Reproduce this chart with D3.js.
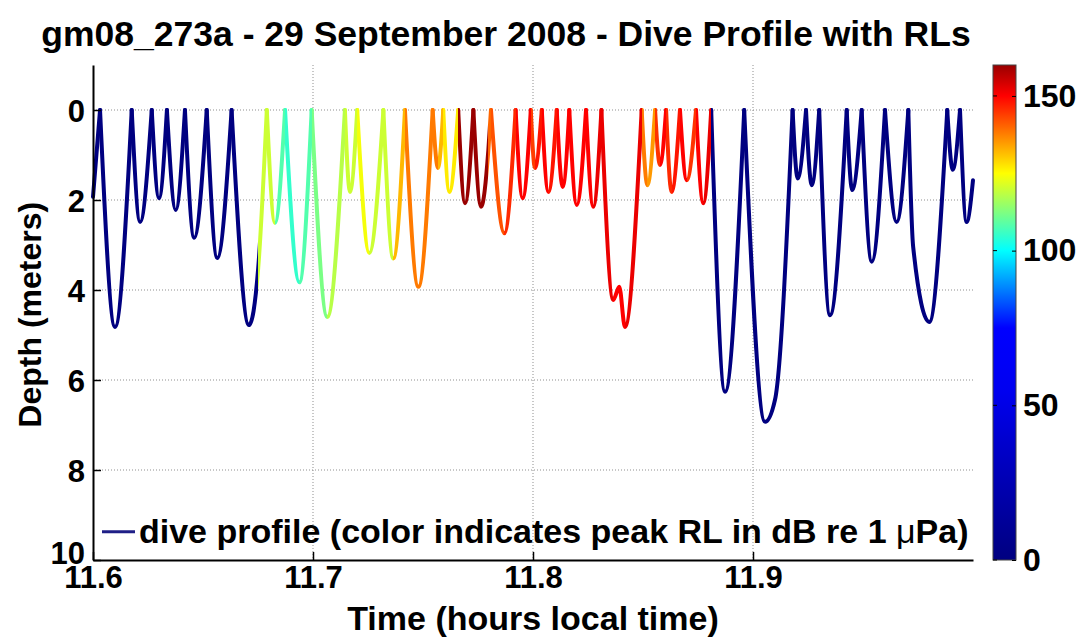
<!DOCTYPE html>
<html>
<head>
<meta charset="utf-8">
<script src="https://cdn.jsdelivr.net/npm/d3@7"></script>
<style>
  body { margin: 0; background: #fff; }
  text { font-family: "Liberation Sans", Arial, Helvetica, sans-serif; font-weight: bold; fill: #000; }
</style>
</head>
<body>
<div id="graphic"></div>
<script>
// dive profile vertices (time in hours, depth in m)
const timeHours = [
  11.6000, 11.6032, 11.6100, 11.6176, 11.6214, 11.6267, 11.6300, 11.6336, 11.6376, 11.6418,
  11.6460, 11.6517, 11.6565, 11.6630, 11.6709, 11.6751, 11.6790, 11.6827, 11.6873, 11.6938,
  11.6994, 11.7065, 11.7145, 11.7168, 11.7201, 11.7256, 11.7320, 11.7365, 11.7418, 11.7479,
  11.7544, 11.7568, 11.7592, 11.7620, 11.7660, 11.7691, 11.7729, 11.7764, 11.7797, 11.7809,
  11.7870, 11.7921, 11.7953, 11.7990, 11.8009, 11.8040, 11.8070, 11.8108, 11.8135, 11.8165,
  11.8199, 11.8241, 11.8274, 11.8311, 11.8365, 11.8392, 11.8418, 11.8494, 11.8520, 11.8555,
  11.8577, 11.8605, 11.8630, 11.8668, 11.8699, 11.8741, 11.8774, 11.8810, 11.8873, 11.8960,
  11.9055, 11.9100, 11.9180, 11.9203, 11.9241, 11.9267, 11.9301, 11.9350, 11.9426, 11.9451,
  11.9494, 11.9540, 11.9600, 11.9653, 11.9706, 11.9728, 11.9801, 11.9883, 11.9908, 11.9941,
  11.9971, 12.0000
];
const depthMeters = [
  1.93, 0, 4.82, 0, 2.49, 0, 1.96, 0, 2.22, 0,
  2.84, 0, 3.29, 0, 4.78, 3.51, 0, 2.51, 0, 3.83,
  0, 4.60, 0, 1.82, 0, 3.18, 0, 3.30, 0, 3.93,
  0, 1.29, 0, 1.82, 0, 2.07, 0, 2.15, 0.89, 0,
  2.74, 0, 1.96, 0, 1.29, 0, 1.82, 0, 1.71, 0,
  2.11, 0, 2.15, 0, 4.22, 3.93, 4.82, 0, 1.67, 0,
  1.22, 0, 1.82, 0, 1.56, 0, 2.07, 0, 6.26, 0,
  6.93, 6.44, 0, 1.52, 0, 1.67, 0, 4.56, 0, 1.78,
  0, 3.37, 0, 2.49, 0, 3.04, 4.71, 0, 1.33, 0,
  2.49, 1.56
];
// peak received level (dB re 1 uPa) for the stretch starting at each vertex, 0 = none
const peakRL = [
  0, 0, 0, 0, 0, 0, 0, 0, 0, 0,
  0, 0, 0, 0, 0, 120, 120, 108, 105, 108,
  112, 118, 120, 120, 124, 120, 120, 132, 138, 138,
  138, 132, 127, 127, 160, 160, 160, 160, 140, 142,
  146, 150, 150, 144, 148, 150, 148, 150, 150, 150,
  150, 150, 152, 152, 150, 150, 152, 138, 135, 145,
  150, 146, 148, 150, 145, 150, 152, 0, 0, 0,
  0, 0, 0, 0, 0, 0, 0, 0, 0, 0,
  0, 0, 0, 0, 0, 0, 0, 0, 0, 0,
  0, 0
];

const xTicks = [11.6, 11.7, 11.8, 11.9];
const yTicks = [0, 2, 4, 6, 8, 10];
const rlTicks = [0, 50, 100, 150];

const Chart = {
  el: "#graphic",
  outerWidth: 1085,
  outerHeight: 639,
  margin: { left: 93, right: 112, top: 65, bottom: 79 },
  lineColor: "#1f1f87",
  // jet-like colormap of the colorbar
  jetDomain: [0, 55, 75, 100, 125, 150, 162.5],
  jetRange: ["#000080", "#0000f0", "#0000ff", "#00ffff", "#ffff00", "#ff0000", "#800000"],
  parameters(){
    this.width = this.outerWidth - this.margin.left - this.margin.right;
    this.height = this.outerHeight - this.margin.top - this.margin.bottom;
    this.points = timeHours.map((t, i) => ({ t: t, depth: depthMeters[i], rl: peakRL[i] }));
  },
  createScales(){
    this.xScale = d3.scaleLinear().domain([11.6, 12.0]).range([0, this.width]);
    this.yScale = d3.scaleLinear().domain([-1, 10]).range([0, this.height]);
    this.color = d3.scaleLinear().domain(this.jetDomain).range(this.jetRange).clamp(true);
    this.rlScale = d3.scaleLinear().domain([0, 160]).range([this.height, 0]);
  },
  drawPlot(){
    this.svg = d3.select(this.el).append("svg")
      .attr("width", this.outerWidth)
      .attr("height", this.outerHeight)
      .style("background", "#fff");
    this.defs = this.svg.append("defs");
    this.plot = this.svg.append("g")
      .attr("transform", `translate(${this.margin.left}, ${this.margin.top})`);
  },
  drawGrid(){
    const grid = this.plot.append("g").attr("class", "grid");
    grid.selectAll(".hgrid")
        .data(yTicks.filter(d => d < 10))
      .enter().append("line")
        .attr("x1", 0).attr("x2", this.width)
        .attr("y1", d => this.yScale(d)).attr("y2", d => this.yScale(d));
    grid.selectAll(".vgrid")
        .data(xTicks.filter(d => d > 11.6))
      .enter().append("line")
        .attr("y1", 0).attr("y2", this.height)
        .attr("x1", d => this.xScale(d)).attr("x2", d => this.xScale(d));
    grid.selectAll("line")
      .attr("stroke", "#8f8f8f")
      .attr("stroke-width", 1)
      .attr("stroke-dasharray", "1,2");
  },
  drawAxes(){
    const yAxis = d3.axisLeft(this.yScale)
      .tickValues(yTicks).tickSizeInner(-8).tickSizeOuter(0).tickPadding(8);
    const xAxis = d3.axisBottom(this.xScale)
      .tickValues(xTicks).tickFormat(d3.format(".1f"))
      .tickSizeInner(-8).tickSizeOuter(0).tickPadding(6);

    const gy = this.plot.append("g").attr("class", "axis yaxis").call(yAxis);
    const gx = this.plot.append("g").attr("class", "axis xaxis")
      .attr("transform", `translate(0, ${this.height})`).call(xAxis);

    [gx, gy].forEach(g => {
      g.select(".domain").attr("stroke", "#000").attr("stroke-width", 2);
      g.selectAll(".tick line").attr("stroke", "#000").attr("stroke-width", 1.5);
      g.selectAll(".tick text")
        .attr("font-family", "Liberation Sans, Arial, sans-serif")
        .attr("font-weight", "bold")
        .attr("font-size", 31)
        .attr("fill", "#000");
    });
    // MATLAB squeezes the bottom "10" up against the x labels
    gy.selectAll(".tick text").attr("dy", d => d === 10 ? "0.1em" : "0.36em");
  },
  drawGradient(){
    const frac = d3.scaleLinear().domain(this.xScale.domain()).range([0, 100]);
    const grad = this.defs.append("linearGradient")
      .attr("id", "rlGrad")
      .attr("gradientUnits", "userSpaceOnUse")
      .attr("x1", this.xScale.range()[0]).attr("x2", this.xScale.range()[1])
      .attr("y1", 0).attr("y2", 0);
    const stops = [];
    this.points.slice(0, -1).forEach((p, i) => {
      const next = this.points[i + 1];
      stops.push({ o: frac(p.t), c: this.color(p.rl) });
      stops.push({ o: frac(next.t), c: this.color(p.rl) });
    });
    grad.selectAll("stop")
        .data(stops)
      .enter().append("stop")
        .attr("offset", d => d.o + "%")
        .attr("stop-color", d => d.c);
  },
  drawData(){
    // one path per dive (surface to surface) so the surface peaks stay sharp
    const dives = [];
    let cur = [];
    this.points.forEach(p => {
      cur.push(p);
      if (p.depth === 0 && cur.length > 1) { dives.push(cur); cur = [p]; }
    });
    if (cur.length > 1) dives.push(cur);

    const line = d3.line()
      .x(d => this.xScale(d.t))
      .y(d => this.yScale(d.depth))
      .curve(d3.curveMonotoneX);

    this.plot.append("g").attr("class", "profile")
      .selectAll("path")
        .data(dives)
      .enter().append("path")
        .attr("d", line)
        .attr("fill", "none")
        .attr("stroke", "url(#rlGrad)")
        .attr("stroke-width", 4)
        .attr("stroke-linejoin", "round")
        .attr("stroke-linecap", "round");
  },
  drawLegend(){
    const g = this.plot.append("g").attr("class", "legend");
    g.append("line")
      .attr("x1", 9).attr("x2", 42)
      .attr("y1", this.yScale(9.37)).attr("y2", this.yScale(9.37))
      .attr("stroke", this.lineColor).attr("stroke-width", 3);
    const txt = g.append("text")
      .attr("x", 46).attr("y", this.yScale(9.37) + 11)
      .attr("font-size", 34);
    txt.append("tspan").text("dive profile (color indicates peak RL in dB re 1 ");
    txt.append("tspan").attr("font-weight", "normal").text("\u03bc");
    txt.append("tspan").text("Pa)");
  },
  drawColorbar(){
    const cx = this.width + 20, cw = 23;
    const grad = this.defs.append("linearGradient")
      .attr("id", "cbGrad")
      .attr("x1", 0).attr("x2", 0).attr("y1", 1).attr("y2", 0);
    grad.selectAll("stop")
        .data(d3.range(0, 161, 2.5))
      .enter().append("stop")
        .attr("offset", d => (d / 160 * 100) + "%")
        .attr("stop-color", d => this.color(d));

    const cb = this.plot.append("g").attr("class", "colorbar")
      .attr("transform", `translate(${cx}, 0)`);
    cb.append("rect")
      .attr("width", cw).attr("height", this.height)
      .attr("fill", "url(#cbGrad)")
      .attr("stroke", "#444").attr("stroke-width", 1);

    const axis = d3.axisRight(this.rlScale)
      .tickValues(rlTicks).tickSizeInner(-4).tickSizeOuter(0).tickPadding(7);
    const ga = cb.append("g").attr("transform", `translate(${cw}, 0)`).call(axis);
    ga.select(".domain").remove();
    ga.selectAll(".tick line").attr("stroke", "#000");
    ga.selectAll(".tick text")
      .attr("font-family", "Liberation Sans, Arial, sans-serif")
      .attr("font-weight", "bold")
      .attr("font-size", 32)
      .attr("fill", "#000");
    cb.selectAll(".lefttick")
        .data(rlTicks)
      .enter().append("line")
        .attr("x1", 0).attr("x2", 4)
        .attr("y1", d => this.rlScale(d)).attr("y2", d => this.rlScale(d))
        .attr("stroke", "#000");
  },
  drawLabels(){
    this.svg.append("text")
      .attr("x", 506).attr("y", 46)
      .attr("text-anchor", "middle")
      .attr("font-size", 35.5)
      .text("gm08_273a - 29 September 2008 - Dive Profile with RLs");
    this.svg.append("text")
      .attr("x", this.margin.left + this.width / 2).attr("y", 630)
      .attr("text-anchor", "middle")
      .attr("font-size", 34)
      .text("Time (hours local time)");
    this.svg.append("text")
      .attr("transform", `translate(41, ${this.margin.top + this.yScale(4.55)}) rotate(-90)`)
      .attr("text-anchor", "middle")
      .attr("font-size", 32)
      .text("Depth (meters)");
  },
  draw(){
    this.parameters();
    this.createScales();
    this.drawPlot();
    this.drawGrid();
    this.drawGradient();
    this.drawData();
    this.drawAxes();
    this.drawLegend();
    this.drawColorbar();
    this.drawLabels();
  }
};

Chart.draw();
</script>
</body>
</html>
